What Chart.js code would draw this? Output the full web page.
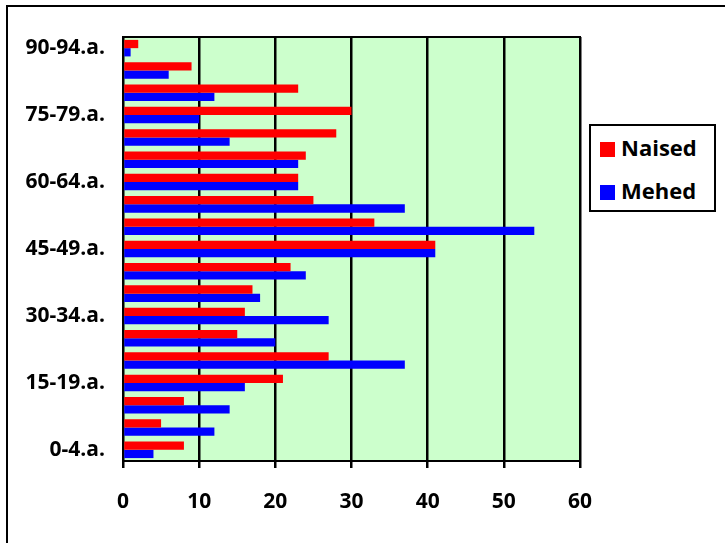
<!DOCTYPE html>
<html>
<head>
<meta charset="utf-8">
<script src="https://cdn.jsdelivr.net/npm/chart.js@4/dist/chart.umd.min.js"></script>
<style>
  html, body { margin: 0; padding: 0; background: #fff; overflow: hidden; }
  #wrap { position: relative; width: 725px; height: 543px; }
  #frame { position: absolute; left: 6px; top: 5px; width: 800px; height: 600px; border: 2px solid #000; }
  #legend { position: absolute; left: 589px; top: 124px; width: 123px; height: 84px; border: 2px solid #000; background: #fff;
            font-family: "Open Sans", sans-serif; font-weight: bold; font-size: 22px; color: #000; }
  .item { position: absolute; left: 9px; height: 30px; line-height: 30px; }
  .sw { display: inline-block; width: 15px; height: 15px; margin-right: 6px; vertical-align: -1px; }
</style>
</head>
<body>
<div id="wrap">
  <div id="frame"></div>
  <canvas id="myBarChart" width="725" height="543" style="position:absolute;left:0;top:0;"></canvas>
  <div id="legend">
    <div class="item" style="top:6px"><span class="sw" style="background:#ff0000"></span>Naised</div>
    <div class="item" style="top:49px"><span class="sw" style="background:#0000ff"></span>Mehed</div>
  </div>
</div>
<script>
// Bar chart-------------------------------------------------------------

//---y-axis (age groups, bottom to top)
var ageGroups = [ '0-4.a.', '5-9.a.', '10-14.a.', '15-19.a.', '20-24.a.', '25-29.a.', '30-34.a.',
                  '35-39.a.', '40-44.a.', '45-49.a.', '50-54.a.', '55-59.a.', '60-64.a.', '65-69.a.',
                  '70-74.a.', '75-79.a.', '80-84.a.', '85-89.a.', '90-94.a.' ]

//---data
var naisedData = [ 8, 5, 8, 21, 27, 15, 16, 17, 22, 41, 33, 25, 23, 24, 28, 30, 23, 9, 2 ]
var mehedData  = [ 4, 12, 14, 16, 37, 20, 27, 18, 24, 41, 54, 37, 23, 23, 14, 10, 12, 6, 1 ]

//---x-axis
var xMin = 0, xMax = 60, xStep = 10

var ctxBar = document.getElementById("myBarChart");

// green plot area + black frame round it
var plotBg = {
  id: 'plotBg',
  beforeDraw: function(chart) {
    var a = chart.chartArea, c = chart.ctx;
    c.save();
    c.fillStyle = '#ccffcc';
    c.fillRect(a.left, a.top, a.right - a.left, a.bottom - a.top);
    c.restore();
  },
  afterDraw: function(chart) {
    var a = chart.chartArea, c = chart.ctx;
    c.save();
    c.strokeStyle = '#000';
    c.lineWidth = 2;
    c.strokeRect(a.left, a.top, a.right - a.left, a.bottom - a.top);
    c.restore();
  }
};

var dataBar = {
  labels: ageGroups,
  datasets: [{
    label: 'Naised',
    backgroundColor: '#ff0000',
    borderWidth: 0,
    data: naisedData
  }, {
    label: 'Mehed',
    backgroundColor: '#0000ff',
    borderWidth: 0,
    data: mehedData
  }]
};

var tickFont = { family: '"Open Sans", sans-serif', weight: 'bold', size: 21 };

var optionsBar = {
  indexAxis: 'y',
  responsive: false,
  animation: false,
  maintainAspectRatio: false,
  layout: { padding: { top: 37, right: 145, left: 0, bottom: 0 } },
  categoryPercentage: 0.74,
  barPercentage: 1.0,
  plugins: {
    legend: { display: false },
    tooltip: { enabled: false }
  },
  scales: {
    x: {
      min: xMin,
      max: xMax,
      ticks: { stepSize: xStep, color: '#000', font: tickFont, padding: 21 },
      grid: { color: '#000', lineWidth: 2.5, drawTicks: true, tickLength: 7, tickColor: '#000', tickWidth: 2.5 },
      border: { display: true, color: '#000', width: 2 },
      afterFit: function(scale) { scale.height = 82; }
    },
    y: {
      reverse: true,
      ticks: {
        autoSkip: false,
        color: '#000',
        font: tickFont,
        padding: 18,
        callback: function(value, index) {
          return index % 3 === 0 ? this.getLabelForValue(value) : '';
        }
      },
      grid: { display: false, drawTicks: false },
      border: { display: true, color: '#000', width: 2 },
      afterFit: function(scale) { scale.width = 123; }
    }
  }
};

var myBarChart = new Chart(ctxBar, {
  type: 'bar',
  options: optionsBar,
  data: dataBar,
  plugins: [plotBg]
});
</script>
</body>
</html>
